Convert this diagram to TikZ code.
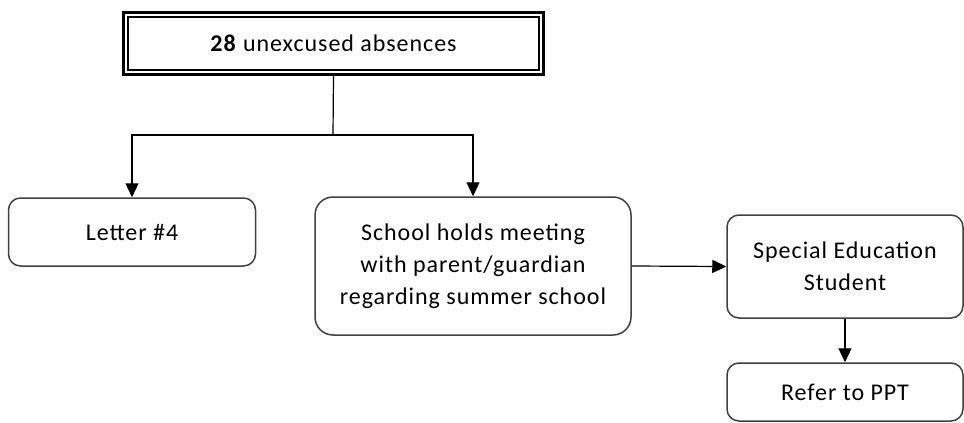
\documentclass[tikz,border=0pt]{standalone}
\usepackage{fontspec}
\setmainfont[LetterSpace=4]{Carlito}
\usetikzlibrary{arrows.meta, positioning}

\tikzset{
  stepbox/.style={draw=black!75, line width=1.5pt, rounded corners=12pt,
    align=center, inner sep=0pt, font=\fontsize{24}{32}\selectfont},
  headbox/.style={draw=black, line width=3pt, inner sep=0pt,
    font=\fontsize{24}{32}\selectfont},
  arr/.style={line width=1.2pt, -{Triangle[length=14pt,width=13pt]}}
}

\begin{document}
\begin{tikzpicture}[x=1pt, y=-1pt]
    \useasboundingbox (0,0) rectangle (964,423);
    % top box with double frame
    \node[headbox, minimum width=420pt, minimum height=62pt] (top) at (333.5,43.5) {\textbf{28} unexcused absences};
    \draw[line width=1.3pt] ([xshift=6pt,yshift=-6pt]top.north west) rectangle ([xshift=-6pt,yshift=6pt]top.south east);
    \coordinate (split) at (333,135);

    \node[stepbox, minimum width=247pt, minimum height=68pt] (letter) at (132,232) {Letter \#4};
    \node[stepbox, minimum width=316pt, minimum height=138pt, rounded corners=18pt] (meeting) at (473,266)
        {School holds meeting\\with parent/guardian\\regarding summer school};
    \node[stepbox, minimum width=236pt, minimum height=103pt] (special) at (845,266.5) {Special Education\\Student};
    \node[stepbox, minimum width=236pt, minimum height=58pt] (refer) at (845,392) {Refer to PPT};

    \draw[line width=1.2pt] (top.south) -- (split);
    \draw[arr] (split) -| (letter.north);
    \draw[arr] (split) -| (meeting.north);
    \draw[arr] (meeting.east) -- (special.west);
    \draw[arr] (special.south) -- (refer.north);
\end{tikzpicture}
\end{document}
